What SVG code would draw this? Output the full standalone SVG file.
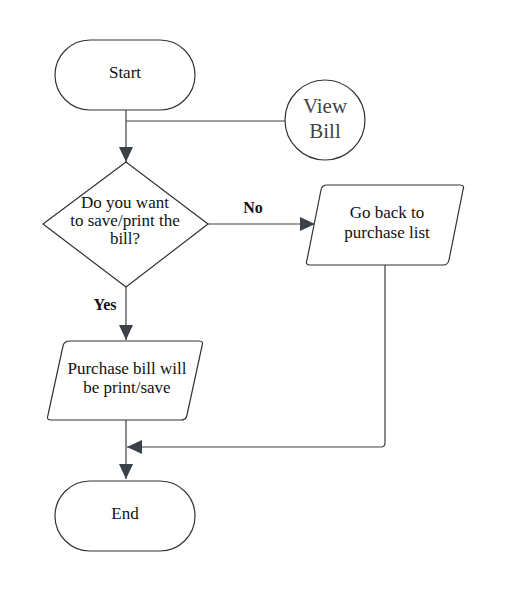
<svg xmlns="http://www.w3.org/2000/svg" width="505" height="591" viewBox="0 0 505 591">
<style>
.shape{fill:#ffffff;stroke:#333333;stroke-width:1.2}
.t{font-family:"Liberation Serif","Times New Roman",serif;font-size:17px;fill:#111111;text-anchor:middle}
.b{font-weight:bold;font-size:16px}
.v{font-size:21px;fill:#444444}
.c{fill:none;stroke:#3b4149;stroke-width:1.2}
</style>
<defs>
<marker id="ah2" viewBox="0 0 15 14" refX="15" refY="7" markerWidth="15" markerHeight="14" orient="auto" markerUnits="userSpaceOnUse">
<path d="M0,0 L15,7 L0,14 Z" fill="#3b4149"/>
</marker>
</defs>
<rect width="505" height="591" fill="#ffffff"/>
<g id="connectors">
<path class="c" d="M126,110 V162" marker-end="url(#ah2)"/>
<path class="c" d="M126,121 H285"/>
<path class="c" d="M208,224 H315" marker-end="url(#ah2)"/>
<path class="c" d="M126,287 V340" marker-end="url(#ah2)"/>
<path class="c" d="M385,265 V443 Q385,447 381,447 H127" marker-end="url(#ah2)"/>
<path class="c" d="M126,420 V479" marker-end="url(#ah2)"/>
</g>
<g id="start">
<rect class="shape" x="55" y="40" width="140" height="70" rx="35" ry="35"/>
<text class="t" x="125" y="78">Start</text>
</g>
<g id="viewbill">
<circle class="shape" cx="325" cy="120" r="40"/>
<text class="t v" x="325" y="113">View</text>
<text class="t v" x="325" y="138">Bill</text>
</g>
<g id="decision">
<path class="shape" d="M126,162 L208,224 L126,287 L43,224 Z" stroke-linejoin="round"/>
<text class="t" x="125" y="208">Do you want</text>
<text class="t" x="125" y="226">to save/print the</text>
<text class="t" x="125" y="244">bill?</text>
</g>
<g id="goback">
<path class="shape" d="M327,185 H460 Q465,185 463,190 L449,260 Q448,265 443,265 H310 Q305,265 307,260 L321,190 Q322,185 327,185 Z"/>
<text class="t" x="387" y="218">Go back to</text>
<text class="t" x="387" y="238">purchase list</text>
</g>
<g id="purchase">
<path class="shape" d="M70,341 H199 Q204,341 202,346 L187,415 Q186,420 181,420 H51 Q46,420 48,415 L63,346 Q64,341 70,341 Z"/>
<text class="t" x="127" y="374">Purchase bill will</text>
<text class="t" x="127" y="393">be print/save</text>
</g>
<g id="end">
<rect class="shape" x="55" y="481" width="140" height="70" rx="35" ry="35"/>
<text class="t" x="125" y="519">End</text>
</g>
<g id="labels">
<text class="t b" x="253" y="213">No</text>
<text class="t b" x="105" y="310">Yes</text>
</g>
</svg>
